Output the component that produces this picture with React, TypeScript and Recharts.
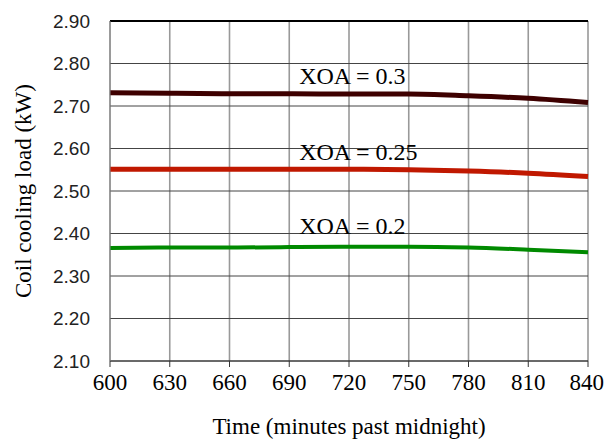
import React from 'react';
import {
  LineChart,
  Line,
  XAxis,
  YAxis,
  CartesianGrid,
  ReferenceLine,
  ReferenceDot,
  Label,
} from 'recharts';

// minutes past midnight
const times = [600, 630, 660, 690, 720, 750, 780, 810, 840];

// coil cooling load (kW) for each outdoor air fraction
const xoa30 = [2.731, 2.73, 2.729, 2.729, 2.728, 2.728, 2.724, 2.718, 2.708];
const xoa25 = [2.551, 2.551, 2.551, 2.551, 2.551, 2.55, 2.547, 2.542, 2.534];
const xoa20 = [2.366, 2.367, 2.367, 2.368, 2.369, 2.369, 2.367, 2.362, 2.356];

const xTicks = [600, 630, 660, 690, 720, 750, 780, 810, 840];
const yTicks = [2.1, 2.2, 2.3, 2.4, 2.5, 2.6, 2.7, 2.8, 2.9];

const seriesLabels = [
  { text: 'XOA = 0.3', time: 695, load: 2.771 },
  { text: 'XOA = 0.25', time: 695, load: 2.594 },
  { text: 'XOA = 0.2', time: 695, load: 2.418 },
];

const data = times.map((t, i) => ({
  time: t,
  xoa30: xoa30[i],
  xoa25: xoa25[i],
  xoa20: xoa20[i],
}));

const serif = '"Liberation Serif", "Times New Roman", serif';
const sans = '"Liberation Sans", Arial, sans-serif';

export default function App() {
  return (
    <div style={{ position: 'absolute', left: 0, top: 0, width: 604, height: 441, background: '#fff' }}>
      <LineChart
        width={604}
        height={441}
        data={data}
        margin={{ top: 21, right: 16, bottom: 0, left: 0 }}
      >
        <CartesianGrid horizontal={false} stroke="#999" strokeWidth={1.6} />
        <CartesianGrid vertical={false} stroke="#444" strokeWidth={1} />
        <XAxis
          dataKey="time"
          type="number"
          domain={[600, 840]}
          ticks={xTicks}
          height={80}
          stroke="#333"
          tickSize={6}
          tickMargin={7}
          tick={{ fill: '#000', fontSize: 23, fontFamily: serif }}
        >
          <Label
            value="Time (minutes past midnight)"
            position="insideBottom"
            offset={7}
            style={{ fill: '#000', fontSize: 23, fontFamily: serif }}
          />
        </XAxis>
        <YAxis
          type="number"
          domain={[2.1, 2.9]}
          ticks={yTicks}
          width={110}
          stroke="#888"
          tickLine={false}
          tickSize={0}
          tickMargin={20}
          tickFormatter={(v: number) => v.toFixed(2)}
          tick={{ fill: '#222', fontSize: 19, fontFamily: sans }}
        >
          <Label
            value="Coil cooling load (kW)"
            angle={-90}
            position="insideLeft"
            offset={23}
            style={{ textAnchor: 'middle', fill: '#000', fontSize: 23, fontFamily: serif }}
          />
        </YAxis>
        <ReferenceLine y={2.9} stroke="#000" strokeWidth={2} />
        <Line
          type="monotone"
          dataKey="xoa30"
          stroke="#3e0000"
          strokeWidth={5}
          dot={false}
          isAnimationActive={false}
        />
        <Line
          type="monotone"
          dataKey="xoa25"
          stroke="#c01800"
          strokeWidth={5}
          dot={false}
          isAnimationActive={false}
        />
        <Line
          type="monotone"
          dataKey="xoa20"
          stroke="#008a00"
          strokeWidth={4}
          dot={false}
          isAnimationActive={false}
        />
        {seriesLabels.map((s) => (
          <ReferenceDot
            key={s.text}
            x={s.time}
            y={s.load}
            r={0}
            fill="none"
            stroke="none"
          >
            <Label
              value={s.text}
              position="right"
              offset={0}
              style={{ fill: '#000', fontSize: 24, fontFamily: serif }}
            />
          </ReferenceDot>
        ))}
      </LineChart>
    </div>
  );
}
